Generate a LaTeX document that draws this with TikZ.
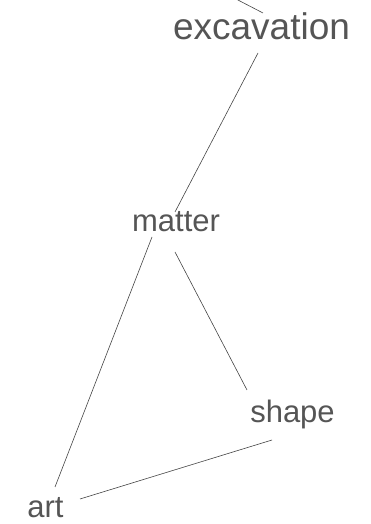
\documentclass[tikz,border=0pt]{standalone}
\usepackage{fontspec}
\setmainfont{Liberation Sans}
\usetikzlibrary{calc}
\definecolor{txt}{HTML}{555555}
\definecolor{edge}{HTML}{444444}
\begin{document}
\begin{tikzpicture}[x=1pt,y=1pt,
  word/.style={anchor=base,inner sep=0pt,text=txt,font=\fontsize{31}{31}\selectfont},
  big/.style={font=\fontsize{37}{37}\selectfont},
  link/.style={draw=edge,line width=0.6pt}]
\useasboundingbox (0,0) rectangle (371,524);
\node[word,big] (excavation) at (261.5,484) {excavation};
\node[word] (matter) at (176,292) {matter};
\node[word] (shape) at (292.5,101) {shape};
\node[word] (art) at (45.5,6) {art};
\coordinate (offtop) at (236,525);
\draw[link] (offtop) -- ($(excavation.base)+(1.5,27)$);
\draw[link] ($(excavation.base)+(-3.5,-13)$) -- ($(matter.base)+(-1,20)$);
\draw[link] ($(matter.base)+(-24,-5)$) -- ($(art.base)+(9.5,31)$);
\draw[link] ($(matter.base)+(-1,-20)$) -- ($(shape.base)+(-45.5,33)$);
\draw[link] ($(shape.base)+(-20.5,-17)$) -- ($(art.base)+(34.5,19)$);
\end{tikzpicture}
\end{document}
